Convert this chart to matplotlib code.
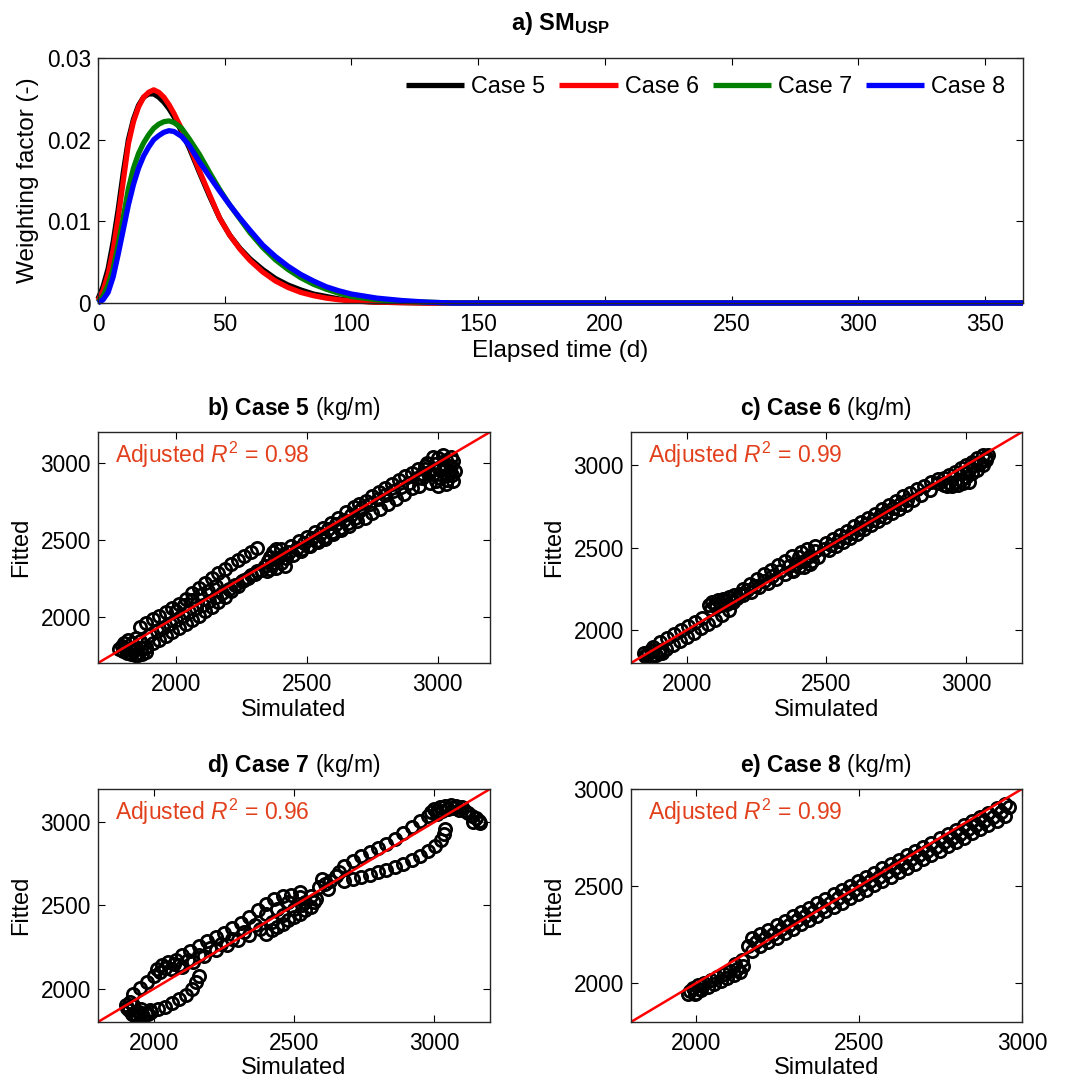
#!/usr/bin/env python3
import matplotlib
matplotlib.use('Agg')
import matplotlib.pyplot as plt
from matplotlib.ticker import FuncFormatter

# weighting factor curves, panel a
days = [0, 2, 4, 6, 8, 10, 12, 14, 16, 18, 20, 22, 24, 26, 28, 30, 33, 36, 40, 44, 48,
        52, 56, 60, 65, 70, 75, 80, 85, 90, 95, 100, 110, 120, 130, 140, 150, 200, 250, 300, 365]
case5 = [0.0005, 0.0020, 0.0042, 0.0075, 0.0115, 0.0160, 0.0200, 0.0225, 0.0242, 0.0252, 0.0256,
         0.0256, 0.0252, 0.0246, 0.0238, 0.0228, 0.0210, 0.0190, 0.0160, 0.0131, 0.0104, 0.0083,
         0.0067, 0.0054, 0.0041, 0.0030, 0.0022, 0.0016, 0.0011, 0.0008, 0.0005, 0.0003, 0.0001,
         0.00005, 0, 0, 0, 0, 0, 0, 0]
case6 = [0.0003, 0.0015, 0.0035, 0.0065, 0.0105, 0.0150, 0.0195, 0.0222, 0.0240, 0.0252, 0.0258,
         0.0261, 0.0258, 0.0252, 0.0243, 0.0232, 0.0213, 0.0193, 0.0162, 0.0133, 0.0104, 0.0083,
         0.0066, 0.0052, 0.0038, 0.0027, 0.0019, 0.0013, 0.0009, 0.0006, 0.0004, 0.00025, 0.0001,
         0.00005, 0, 0, 0, 0, 0, 0, 0]
case7 = [0.0001, 0.0008, 0.0022, 0.0042, 0.0072, 0.0105, 0.0140, 0.0165, 0.0183, 0.0196, 0.0206,
         0.0214, 0.0219, 0.0222, 0.0223, 0.0221, 0.0214, 0.0201, 0.0182, 0.0160, 0.0139, 0.0120,
         0.0103, 0.0086, 0.0068, 0.0053, 0.0041, 0.0031, 0.0023, 0.0017, 0.0012, 0.0008, 0.0004,
         0.0002, 0.0001, 0, 0, 0, 0, 0, 0]
case8 = [0.0, 0.0004, 0.0013, 0.0032, 0.0060, 0.0090, 0.0120, 0.0145, 0.0165, 0.0180, 0.0191,
         0.0200, 0.0205, 0.0209, 0.0211, 0.0210, 0.0204, 0.0193, 0.0173, 0.0155, 0.0137, 0.0120,
         0.0104, 0.0089, 0.0071, 0.0057, 0.0045, 0.0035, 0.0027, 0.0020, 0.0015, 0.0011, 0.0006,
         0.0003, 0.0001, 0, 0, 0, 0, 0, 0]
curve_labels = ['Case 5', 'Case 6', 'Case 7', 'Case 8']
curve_colors = ['black', 'red', 'green', 'blue']

# simulated vs fitted (kg/m), panels b-e, read branch by branch
# case 5
b_ll_s = [1780, 1795, 1810, 1825, 1840, 1855, 1870, 1885, 1790, 1805, 1820, 1835, 1850, 1865, 1880,
          1800, 1830, 1860, 1815, 1845]
b_ll_f = [1790, 1775, 1765, 1760, 1755, 1755, 1760, 1770, 1810, 1800, 1790, 1780, 1790, 1800, 1800,
          1830, 1830, 1840, 1850, 1860]
b_up_s = [1860, 1885, 1910, 1935, 1960, 1985, 2010, 2035, 2060, 2085, 2110, 2135, 2160, 2185, 2210,
          2235, 2260, 2285, 2310]
b_up_f = [1934, 1958, 1983, 2008, 2032, 2057, 2082, 2115, 2152, 2188, 2222, 2255, 2285, 2312, 2340,
          2368, 2395, 2420, 2445]
b_lo_s = [1885, 1910, 1935, 1960, 1985, 2010, 2035, 2060, 2085, 2110, 2135, 2160, 2185, 2210, 2235,
          2260, 2285, 2310]
b_lo_f = [1804, 1828, 1852, 1878, 1902, 1926, 1952, 1980, 2008, 2036, 2066, 2098, 2130, 2165, 2200,
          2236, 2270, 2300]
b_mid_s = [1900, 1925, 1950, 1975, 2000, 2025, 2050, 2075, 2100, 2125, 2150, 2175, 2200, 2225, 2250,
           2275, 2300, 2325, 2000, 2030, 2060, 2090, 2120, 2150, 2180]
b_mid_f = [1880, 1905, 1930, 1955, 1980, 2005, 2030, 2055, 2080, 2105, 2130, 2155, 2180, 2205, 2230,
           2255, 2280, 2305, 2040, 2075, 2110, 2140, 2170, 2200, 2230]
b_bl_s = [2340, 2350, 2360, 2370, 2380, 2400, 2410, 2420, 2400, 2380, 2360, 2390, 2370, 2345, 2415]
b_bl_f = [2330, 2360, 2390, 2420, 2440, 2440, 2410, 2380, 2350, 2320, 2310, 2380, 2350, 2300, 2330]
b_band_s = [2430, 2460, 2490, 2520, 2550, 2580, 2610, 2640, 2670, 2700, 2440, 2470, 2500, 2530, 2560,
            2590, 2620, 2650, 2680, 2445, 2475, 2505, 2535, 2565, 2595, 2625, 2655, 2685]
b_band_f = [2420, 2450, 2480, 2510, 2540, 2570, 2600, 2630, 2660, 2690, 2460, 2490, 2520, 2550, 2580,
            2610, 2640, 2680, 2710, 2400, 2430, 2460, 2490, 2520, 2550, 2580, 2610, 2640]
b_lo2_s = [2480, 2510, 2540, 2570, 2600, 2630, 2660, 2690, 2720, 2750, 2780, 2810, 2840, 2870, 2900,
           2930]
b_lo2_f = [2440, 2462, 2485, 2508, 2535, 2562, 2590, 2620, 2645, 2672, 2700, 2730, 2765, 2800, 2835,
           2850]
b_up2_s = [2700, 2725, 2750, 2775, 2800, 2825, 2850, 2875, 2900, 2925, 2950, 2710, 2740, 2770, 2800,
           2830, 2860, 2890, 2920]
b_up2_f = [2730, 2755, 2785, 2810, 2835, 2862, 2888, 2912, 2935, 2958, 2980, 2705, 2735, 2765, 2790,
           2815, 2845, 2870, 2900]
b_tr_s = [2940, 2950, 2960, 2970, 2980, 2990, 3000, 3000, 3010, 3020, 3030, 3030, 3040, 3050, 3050,
          3060, 3065, 3060, 2980, 3020, 2945, 2965, 2985, 3005, 3025, 3045, 3055, 2995, 3035]
b_tr_f = [2900, 2960, 3000, 2870, 2930, 2990, 3030, 2850, 2900, 2960, 3020, 2860, 2920, 2980, 3040,
          2880, 2950, 3010, 3040, 3050, 2930, 2940, 2960, 2960, 2990, 2950, 2920, 2880, 2890]

# case 6
c_ll_s = [1850, 1860, 1870, 1880, 1890, 1870, 1900, 1910, 1845, 1880]
c_ll_f = [1840, 1860, 1830, 1870, 1850, 1880, 1880, 1860, 1860, 1845]
c_up_s = [1880, 1905, 1930, 1955, 1980, 2005, 2030, 2055]
c_up_f = [1900, 1925, 1950, 1975, 2000, 2025, 2050, 2075]
c_lo_s = [1900, 1925, 1950, 1975, 2000, 2025, 2050, 2075, 2100, 2125, 2150]
c_lo_f = [1860, 1885, 1910, 1935, 1960, 1985, 2010, 2035, 2060, 2090, 2120]
c_jump_s = [2080, 2090, 2100, 2110, 2120, 2130, 2140, 2150, 2160, 2170, 2180, 2190, 2085, 2105, 2125,
            2145, 2165]
c_jump_f = [2150, 2170, 2155, 2180, 2165, 2190, 2175, 2200, 2185, 2210, 2195, 2220, 2130, 2140, 2150,
            2160, 2170]
c_mid_s = [2200, 2225, 2250, 2275, 2300, 2325, 2350, 2375, 2200, 2230, 2260, 2290, 2320, 2350, 2380,
           2215, 2245, 2275, 2305, 2335, 2365]
c_mid_f = [2250, 2280, 2310, 2340, 2365, 2395, 2420, 2450, 2210, 2230, 2260, 2285, 2310, 2340, 2365,
           2240, 2265, 2295, 2325, 2355, 2390]
c_bl_s = [2390, 2400, 2410, 2420, 2430, 2440, 2450, 2460, 2420, 2440, 2470, 2400, 2380, 2460]
c_bl_f = [2400, 2440, 2470, 2420, 2490, 2450, 2420, 2480, 2380, 2400, 2440, 2380, 2360, 2510]
c_band_s = [2490, 2515, 2540, 2565, 2590, 2615, 2640, 2665, 2690, 2715, 2740, 2765, 2790,
            2500, 2525, 2550, 2575, 2600, 2625, 2650, 2675, 2700, 2725, 2750, 2775,
            2510, 2535, 2560, 2585, 2610, 2635, 2660, 2685, 2710, 2735, 2760, 2785]
c_band_f = [2490, 2515, 2540, 2565, 2590, 2615, 2640, 2665, 2690, 2715, 2740, 2765, 2790,
            2525, 2550, 2575, 2600, 2630, 2655, 2680, 2705, 2735, 2760, 2785, 2810,
            2485, 2510, 2535, 2560, 2585, 2610, 2635, 2660, 2685, 2710, 2735, 2760]
c_up2_s = [2800, 2825, 2850, 2875, 2900, 2810, 2840, 2870]
c_up2_f = [2830, 2855, 2875, 2895, 2915, 2790, 2820, 2850]
c_tr_s = [2900, 2920, 2940, 2960, 2980, 3000, 3020, 3040, 3060, 3070, 3080, 3060, 3040, 3020, 3000,
          2980, 2960, 2940, 2920, 3010, 3050, 3070, 2990, 3030, 2930, 2950, 2970, 2990, 3010]
c_tr_f = [2890, 2880, 2890, 2900, 2910, 2930, 2950, 2970, 3000, 3030, 3060, 3060, 3040, 3020, 3000,
          2980, 2960, 2940, 2920, 2970, 3010, 3050, 2950, 3000, 2870, 2870, 2880, 2890, 2900]

# case 7
d_ll_s = [1900, 1910, 1920, 1930, 1940, 1950, 1960, 1970, 1980, 1915, 1905, 1945, 1925, 1955, 1985]
d_ll_f = [1900, 1870, 1850, 1840, 1835, 1840, 1838, 1845, 1850, 1920, 1885, 1860, 1900, 1880, 1870]
d_lo_s = [1990, 2015, 2040, 2065, 2090, 2115, 2135, 2150, 2160]
d_lo_f = [1860, 1875, 1892, 1912, 1935, 1965, 2000, 2040, 2075]
d_up_s = [1925, 1950, 1975, 2000, 2020, 2040, 2010, 2030, 2050, 2070, 2060, 2080, 2090]
d_up_f = [1970, 2005, 2040, 2075, 2100, 2125, 2120, 2140, 2160, 2150, 2120, 2170, 2140]
d_up1_s = [2100, 2130, 2160, 2190, 2220, 2250, 2280, 2310, 2340, 2370, 2400, 2430, 2460, 2490, 2520]
d_up1_f = [2200, 2225, 2255, 2285, 2310, 2335, 2365, 2395, 2430, 2470, 2510, 2540, 2555, 2565, 2580]
d_mid_s = [2100, 2140, 2180, 2220, 2260, 2300, 2340, 2380, 2420, 2460, 2500, 2540, 2560,
           2120, 2160, 2200, 2240, 2280, 2320, 2360, 2400, 2440, 2480, 2520]
d_mid_f = [2130, 2160, 2195, 2235, 2265, 2295, 2325, 2360, 2400, 2440, 2480, 2520, 2560,
           2170, 2205, 2245, 2270, 2300, 2340, 2380, 2450, 2480, 2520, 2550]
d_lo1_s = [2400, 2440, 2480, 2520, 2560, 2580, 2420, 2500, 2540, 2460, 2530, 2570]
d_lo1_f = [2330, 2370, 2410, 2450, 2490, 2540, 2350, 2430, 2470, 2390, 2500, 2520]
d_neck_s = [2590, 2610, 2630, 2650, 2600, 2620, 2660]
d_neck_f = [2610, 2630, 2650, 2680, 2660, 2600, 2700]
d_up2_s = [2680, 2710, 2740, 2770, 2800, 2830, 2860, 2890, 2920, 2950, 2980, 3010]
d_up2_f = [2740, 2770, 2795, 2820, 2845, 2870, 2900, 2935, 2970, 3005, 3040, 3065]
d_lo2_s = [2680, 2710, 2740, 2770, 2800, 2830, 2860, 2890, 2920, 2950, 2980, 3005, 3025, 3035, 3040]
d_lo2_f = [2650, 2660, 2672, 2685, 2700, 2712, 2730, 2750, 2775, 2800, 2830, 2860, 2895, 2930, 2960]
d_hook_s = [3000, 3020, 3040, 3060, 3080, 3100, 3110, 3120, 3135, 3150, 3160, 3165, 3140, 3030, 3070,
            2990, 3010, 3050, 3090]
d_hook_f = [3080, 3090, 3100, 3105, 3100, 3090, 3070, 3055, 3040, 3025, 3010, 2995, 3000, 3070, 3085,
            3060, 3050, 3080, 3075]

# case 8
e_ll_s = [1980, 1990, 2000, 2005, 2015, 2025, 2035, 2045, 2055, 2065, 2075, 2085, 2095, 2105, 2115,
          2125, 2135, 2145, 2140, 2120, 1975, 1995, 2010]
e_ll_f = [1960, 1975, 1950, 1990, 1965, 2000, 1980, 2015, 1995, 2030, 2010, 2045, 2025, 2060, 2040,
          2075, 2055, 2090, 2120, 2100, 1945, 1945, 1970]
e_mid_s = [2160, 2185, 2210, 2235, 2260, 2285, 2310, 2335, 2360, 2385, 2410, 2435, 2460, 2485, 2510,
           2535, 2560, 2585, 2610, 2635, 2660, 2685, 2710, 2735, 2760, 2785, 2810, 2835, 2860, 2885,
           2910, 2935, 2960]
e_mid_f = [2190, 2210, 2232, 2255, 2278, 2300, 2323, 2346, 2368, 2391, 2413, 2436, 2458, 2480, 2503,
           2525, 2548, 2570, 2592, 2615, 2637, 2659, 2681, 2703, 2726, 2748, 2770, 2792, 2814, 2836,
           2858, 2880, 2905]
e_row_s = [2172, 2197, 2222, 2247, 2272, 2297, 2322, 2347, 2372, 2397, 2422, 2447, 2472, 2497, 2522,
           2547, 2572, 2597, 2622, 2647, 2672, 2697, 2722, 2747, 2772, 2797, 2822, 2847, 2872, 2897,
           2922, 2947]
e_hi_f = [2232, 2253, 2276, 2299, 2321, 2344, 2367, 2389, 2412, 2434, 2457, 2479, 2501, 2524, 2546,
          2569, 2591, 2613, 2636, 2658, 2680, 2702, 2724, 2747, 2769, 2791, 2813, 2835, 2857, 2879,
          2901, 2925]
e_lo_f = [2168, 2189, 2212, 2235, 2257, 2280, 2303, 2325, 2348, 2370, 2393, 2415, 2437, 2460, 2482,
          2505, 2527, 2549, 2572, 2594, 2616, 2638, 2660, 2683, 2705, 2727, 2749, 2771, 2793, 2815,
          2837, 2861]

sim5 = b_ll_s + b_up_s + b_lo_s + b_mid_s + b_bl_s + b_band_s + b_lo2_s + b_up2_s + b_tr_s
fit5 = b_ll_f + b_up_f + b_lo_f + b_mid_f + b_bl_f + b_band_f + b_lo2_f + b_up2_f + b_tr_f
sim6 = c_ll_s + c_up_s + c_lo_s + c_jump_s + c_mid_s + c_bl_s + c_band_s + c_up2_s + c_tr_s
fit6 = c_ll_f + c_up_f + c_lo_f + c_jump_f + c_mid_f + c_bl_f + c_band_f + c_up2_f + c_tr_f
sim7 = d_ll_s + d_lo_s + d_up_s + d_up1_s + d_mid_s + d_lo1_s + d_neck_s + d_up2_s + d_lo2_s + d_hook_s
fit7 = d_ll_f + d_lo_f + d_up_f + d_up1_f + d_mid_f + d_lo1_f + d_neck_f + d_up2_f + d_lo2_f + d_hook_f
sim8 = e_ll_s + e_mid_s + e_row_s + e_row_s
fit8 = e_ll_f + e_mid_f + e_hi_f + e_lo_f

panel_titles = [r'$\mathbf{b)\ Case\ 5}$ (kg/m)', r'$\mathbf{c)\ Case\ 6}$ (kg/m)',
                r'$\mathbf{d)\ Case\ 7}$ (kg/m)', r'$\mathbf{e)\ Case\ 8}$ (kg/m)']
adj_r2 = [0.98, 0.99, 0.96, 0.99]
panel_limits = [(1700, 3200), (1800, 3200), (1800, 3200), (1800, 3000)]
panel_ticks = [2000, 2500, 3000]

plt.rcParams['font.family'] = ['Liberation Sans', 'DejaVu Sans']
plt.rcParams['mathtext.fontset'] = 'custom'
plt.rcParams['mathtext.rm'] = 'Liberation Sans'
plt.rcParams['mathtext.it'] = 'Liberation Sans:italic'
plt.rcParams['mathtext.bf'] = 'Liberation Sans:bold'

def style_axes(ax):
  ax.tick_params(direction='in', top=True, right=True, length=5, width=0.8,
                 labelsize=16.3, colors='black')
  ax.tick_params(axis='x', pad=7)
  ax.tick_params(axis='y', pad=5)
  for sp in ax.spines.values():
    sp.set_color('#262626')
    sp.set_linewidth(1.0)

fig = plt.figure(figsize=(10.72, 10.88), dpi=100)

# panel a
ax = fig.add_axes([0.0914, 0.7215, 0.8629, 0.2252])
for values, lab, col in zip([case5, case6, case7, case8], curve_labels, curve_colors):
  ax.plot(days, values, color=col, lw=3.8, label=lab, clip_on=False, solid_capstyle='butt')
ax.set_xlim(0, 365)
ax.set_ylim(0, 0.03)
ax.set_xticks([0, 50, 100, 150, 200, 250, 300, 350])
ax.set_yticks([0, 0.01, 0.02, 0.03])
ax.yaxis.set_major_formatter(FuncFormatter(lambda v, p: '%g' % v))
style_axes(ax)
ax.set_xlabel('Elapsed time (d)', fontsize=17.5, labelpad=3)
ax.set_ylabel('Weighting factor (-)', fontsize=17.5, labelpad=6)
ax.set_title(r'a) SM$_{\mathbf{USP}}$', fontweight='bold', fontsize=17, pad=20)
ax.legend(loc='upper right', ncol=4, frameon=False, fontsize=16.8, handlelength=2.5,
          handletextpad=0.3, columnspacing=0.6, borderaxespad=0.35)

# panels b-e
positions = [[0.0914, 0.3906, 0.3657, 0.2123], [0.5886, 0.3906, 0.3647, 0.2123],
             [0.0914, 0.0607, 0.3657, 0.2141], [0.5886, 0.0607, 0.3647, 0.2141]]
sims = [sim5, sim6, sim7, sim8]
fits = [fit5, fit6, fit7, fit8]
for i in range(4):
  ax = fig.add_axes(positions[i])
  lo, hi = panel_limits[i]
  ax.plot(sims[i], fits[i], 'o', mfc='none', mec='black', ms=8.8, mew=2.0, ls='none')
  ax.plot([lo, hi], [lo, hi], color='red', lw=1.8)
  ax.set_xlim(lo, hi)
  ax.set_ylim(lo, hi)
  ax.set_xticks(panel_ticks)
  ax.set_yticks(panel_ticks)
  style_axes(ax)
  ax.set_xlabel('Simulated', fontsize=17, labelpad=2)
  ax.set_ylabel('Fitted', fontsize=17, labelpad=6)
  ax.set_title(panel_titles[i], fontsize=16.5, pad=12)
  ax.text(0.043, 0.90, r'Adjusted $R^2$ = %.2f' % adj_r2[i], transform=ax.transAxes,
          color='#e2401c', fontsize=16.5, va='center', ha='left')

plt.savefig('out.png', dpi=100)
